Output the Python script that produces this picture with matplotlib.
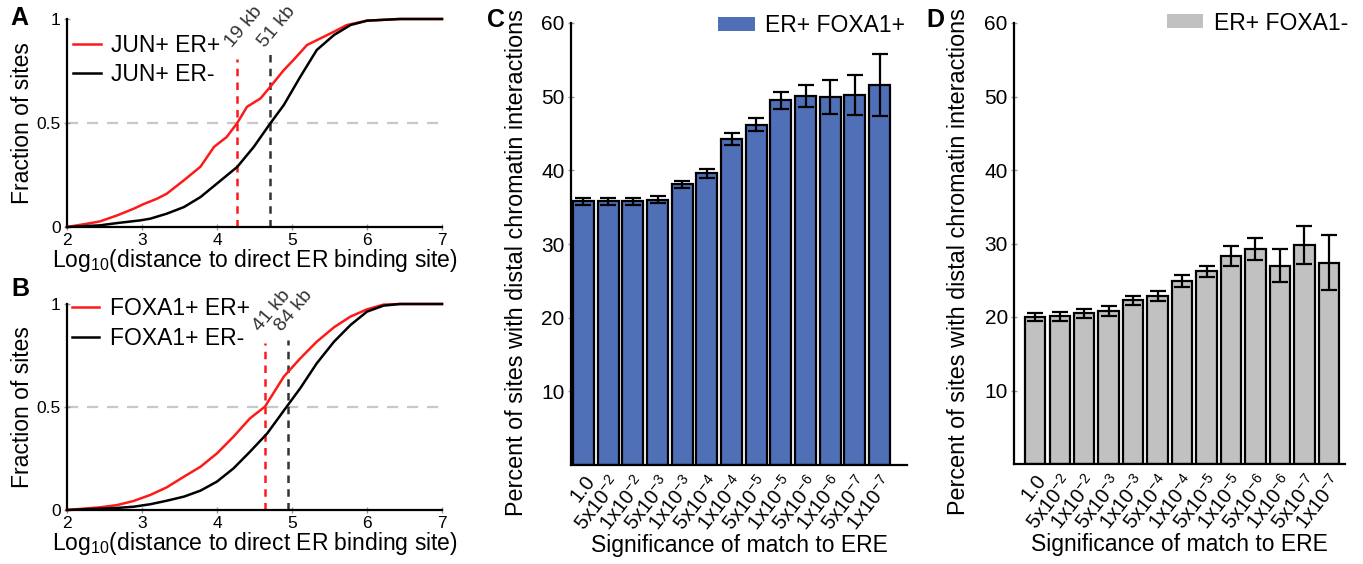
import numpy as np
import matplotlib
matplotlib.use("Agg")
import matplotlib.pyplot as plt
from matplotlib.patches import Patch

plt.rcParams['font.family'] = ['Liberation Sans', 'DejaVu Sans']
plt.rcParams['mathtext.fontset'] = 'custom'
plt.rcParams['mathtext.rm'] = 'Liberation Sans'
plt.rcParams['mathtext.it'] = 'Liberation Sans:italic'

# ---- data ----
# panel A: cumulative fraction vs log10 distance
a_red_x = [2.0, 2.27, 2.44, 2.67, 2.89, 3.02, 3.2, 3.33, 3.56, 3.78, 3.96, 4.13, 4.27,
           4.4, 4.58, 4.71, 4.89, 5.02, 5.2, 5.38, 5.56, 5.73, 6.0, 6.44, 7.0]
a_red_y = [0.0, 0.016, 0.027, 0.056, 0.088, 0.11, 0.136, 0.16, 0.225, 0.29, 0.385, 0.433, 0.50,
           0.578, 0.618, 0.674, 0.754, 0.803, 0.875, 0.907, 0.939, 0.971, 0.992, 1.0, 1.0]
a_blk_x = [2.0, 2.44, 2.67, 2.98, 3.11, 3.33, 3.56, 3.78, 4.0, 4.27, 4.49, 4.71, 4.89,
           5.11, 5.33, 5.56, 5.78, 6.0, 6.44, 7.0]
a_blk_y = [0.0, 0.008, 0.019, 0.032, 0.04, 0.064, 0.096, 0.144, 0.209, 0.289, 0.385, 0.498, 0.586,
           0.722, 0.851, 0.923, 0.971, 0.992, 1.0, 1.0]
a_labels = ['JUN+ ER+', 'JUN+ ER-']
a_medians = [4.27, 4.71]
a_median_tops = [0.81, 0.837]
a_median_text = ['19 kb', '51 kb']

# panel B
b_red_x = [2.0, 2.44, 2.67, 2.89, 3.11, 3.33, 3.56, 3.78, 4.0, 4.22, 4.44, 4.64, 4.89,
           5.11, 5.33, 5.56, 5.78, 6.0, 6.22, 6.44, 7.0]
b_red_y = [0.0, 0.013, 0.024, 0.044, 0.073, 0.11, 0.162, 0.21, 0.275, 0.356, 0.445, 0.502, 0.647,
           0.736, 0.817, 0.887, 0.939, 0.974, 0.997, 1.0, 1.0]
b_blk_x = [2.0, 2.67, 2.89, 3.11, 3.33, 3.56, 3.78, 4.0, 4.22, 4.44, 4.67, 4.93, 5.11,
           5.33, 5.56, 5.78, 6.0, 6.22, 6.44, 7.0]
b_blk_y = [0.0, 0.01, 0.016, 0.028, 0.045, 0.065, 0.094, 0.138, 0.202, 0.283, 0.372, 0.502, 0.591,
           0.712, 0.817, 0.898, 0.963, 0.992, 1.0, 1.0]
b_labels = ['FOXA1+ ER+', 'FOXA1+ ER-']
b_medians = [4.64, 4.94]
b_median_tops = [0.81, 0.825]
b_median_text = ['41 kb', '84 kb']

# panels C and D: percent of sites with distal interactions
sig_labels = ['1.0', '5x10$^{-2}$', '1x10$^{-2}$', '5x10$^{-3}$', '1x10$^{-3}$',
              '5x10$^{-4}$', '1x10$^{-4}$', '5x10$^{-5}$', '1x10$^{-5}$',
              '5x10$^{-6}$', '1x10$^{-6}$', '5x10$^{-7}$', '1x10$^{-7}$']
c_vals = [35.8, 35.8, 35.8, 36.0, 38.1, 39.6, 44.3, 46.2, 49.5, 50.1, 49.9, 50.2, 51.6]
c_err = [0.5, 0.5, 0.5, 0.5, 0.5, 0.6, 0.8, 0.9, 1.2, 1.5, 2.3, 2.7, 4.2]
d_vals = [20.0, 20.1, 20.5, 20.8, 22.3, 22.9, 24.9, 26.2, 28.3, 29.3, 27.0, 29.8, 27.4]
d_err = [0.6, 0.6, 0.6, 0.7, 0.6, 0.7, 0.8, 0.8, 1.3, 1.5, 2.3, 2.6, 3.7]

RED = '#ff1a1a'
BLUE = '#4f6fb6'
GREY = '#c1c1c1'
TICK_GREY = '#9a9a9a'

fig = plt.figure(figsize=(13.63, 5.64), dpi=100)

def style_axes(ax):
    for s in ['top', 'right']:
        ax.spines[s].set_visible(False)
    for s in ['left', 'bottom']:
        ax.spines[s].set_linewidth(1.6)
    ax.tick_params(direction='inout', length=5, width=1, color=TICK_GREY, pad=2)


def cdf_panel(rect, xr, yr, xb, yb, labels, medians, tops, texts, leg_anchor, letter, letter_xy):
    ax = fig.add_axes(rect)
    style_axes(ax)
    ax.axhline(0.5, color='#c8c8c8', lw=1.6, ls=(0, (5, 4)), zorder=1)
    ax.plot(xr, yr, color=RED, lw=1.8, label=labels[0], clip_on=False, zorder=3)
    ax.plot(xb, yb, color='black', lw=1.8, label=labels[1], clip_on=False, zorder=3)
    for m, t, c in zip(medians, tops, [RED, '#333333']):
        ax.plot([m, m], [0, t], color=c, lw=1.8, ls=(0, (3, 2.5)), zorder=2)
    for m, txt in zip(medians, texts):
        ax.text(m - 0.03, 0.85, txt, rotation=50, rotation_mode='anchor',
                ha='left', va='bottom', fontsize=14, color='#333333')
    ax.set_xlim(2, 7)
    ax.set_ylim(0, 1)
    ax.set_xticks([2, 3, 4, 5, 6, 7])
    ax.set_yticks([0, 0.5, 1])
    ax.set_yticklabels(['0', '0.5', '1'])
    ax.tick_params(labelsize=12.5)
    ax.set_xlabel('Log$_{10}$(distance to direct ER binding site)', fontsize=16.5, labelpad=-1)
    ax.set_ylabel('Fraction of sites', fontsize=16.5, labelpad=2)
    ax.legend(loc='upper left', bbox_to_anchor=leg_anchor, frameon=False, fontsize=16.5,
              handlelength=1.2, handletextpad=0.45, labelspacing=0.3,
              borderpad=0, borderaxespad=0)
    fig.text(letter_xy[0], letter_xy[1], letter, fontsize=18, fontweight='bold', va='top')
    return ax


cdf_panel([67 / 1363, 1 - 227 / 564, 375 / 1363, 208 / 564],
          a_red_x, a_red_y, a_blk_x, a_blk_y, a_labels, a_medians, a_median_tops,
          a_median_text, (0.016, 0.93), 'A', (10 / 1363, 1 - 6 / 564))
cdf_panel([67 / 1363, 1 - 510 / 564, 375 / 1363, 206 / 564],
          b_red_x, b_red_y, b_blk_x, b_blk_y, b_labels, b_medians, b_median_tops,
          b_median_text, (0.013, 1.035), 'B', (11 / 1363, 1 - 277 / 564))


def bar_panel(rect, vals, errs, color, width, xlim, label, leg_anchor, ylab_x, letter, letter_xy):
    ax = fig.add_axes(rect)
    style_axes(ax)
    x = np.arange(len(vals))
    ax.bar(x, vals, width=width, color=color, edgecolor='black', linewidth=1.6, zorder=2)
    ax.errorbar(x, vals, yerr=errs, fmt='none', ecolor='black', elinewidth=1.6,
                capsize=6, capthick=1.6, zorder=3)
    ax.set_xlim(*xlim)
    ax.set_ylim(0, 60)
    ax.set_yticks([10, 20, 30, 40, 50, 60])
    ax.tick_params(axis='y', labelsize=15)
    ax.tick_params(axis='x', length=0, pad=5)
    ax.set_xticks(x)
    ax.set_xticklabels(sig_labels, rotation=52, ha='right', va='top',
                       rotation_mode='anchor', fontsize=14.5)
    ax.set_xlabel('Significance of match to ERE', fontsize=16.5, labelpad=0)
    ax.set_ylabel('Percent of sites with distal chromatin interactions', fontsize=16.8)
    ax.yaxis.set_label_coords(ylab_x, 0.459)
    ax.legend(handles=[Patch(facecolor=color, edgecolor='none', label=label)],
              loc='upper right', bbox_to_anchor=leg_anchor, frameon=False, fontsize=16.5,
              handlelength=1.6, handleheight=0.57, handletextpad=0.45,
              borderpad=0, borderaxespad=0)
    fig.text(letter_xy[0], letter_xy[1], letter, fontsize=18, fontweight='bold', va='top')
    return ax


bar_panel([571 / 1363, 1 - 465 / 564, 336 / 1363, 442 / 564], c_vals, c_err, BLUE, 0.85,
          (-0.506, 13.11), 'ER+ FOXA1+', (0.994, 1.02), -0.128, 'C', (487 / 1363, 1 - 8 / 564))
bar_panel([1014 / 1363, 1 - 464 / 564, 331 / 1363, 441 / 564], d_vals, d_err, GREY, 0.82,
          (-0.86, 12.655), 'ER+ FOXA1-', (1.009, 1.026), -0.133, 'D', (926 / 1363, 1 - 8 / 564))

fig.savefig('out.png', dpi=100)
